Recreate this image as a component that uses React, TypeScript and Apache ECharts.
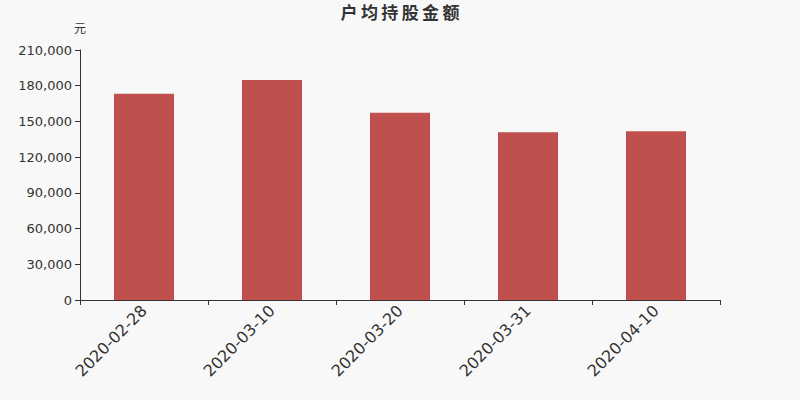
import { useRef, useEffect } from 'react'
import * as echarts from 'echarts'

const dates = ['2020-02-28', '2020-03-10', '2020-03-20', '2020-03-31', '2020-04-10']
const amounts = [173300, 184800, 157300, 140900, 141700]
const yMax = 210000
const yStep = 30000

export default function App() {
  const chartRef = useRef<HTMLDivElement>(null)

  useEffect(() => {
    if (!chartRef.current) return
    document.body.style.margin = '0'
    const chart = echarts.init(chartRef.current, null, { renderer: 'svg' })

    chart.setOption({
      animation: false,
      backgroundColor: '#f8f8f8',
      title: {
        text: '户\u2009均\u2009持\u2009股\u2009金\u2009额',
        left: 'center',
        top: -2,
        textStyle: { fontSize: 17, fontWeight: 'bold', color: '#333', fontFamily: 'Noto Sans CJK SC' }
      },
      grid: { left: 80, right: 80, top: 50, bottom: 100 },
      xAxis: {
        type: 'category',
        data: dates,
        axisLine: { lineStyle: { color: '#333' } },
        axisTick: { show: true, lineStyle: { color: '#333' } },
        axisLabel: { rotate: 45, fontSize: 16, color: '#333', margin: 8, fontFamily: 'DejaVu Sans' }
      },
      yAxis: {
        type: 'value',
        name: '元',
        nameGap: 17,
        nameTextStyle: { color: '#333', fontSize: 12, align: 'center', fontFamily: 'Noto Sans CJK SC' },
        min: 0,
        max: yMax,
        interval: yStep,
        axisLine: { show: true, lineStyle: { color: '#333' } },
        axisTick: { show: true },
        splitLine: { show: false },
        axisLabel: {
          color: '#333',
          fontSize: 13,
          fontFamily: 'DejaVu Sans',
          formatter: (v: number) => v.toLocaleString('en-US')
        }
      },
      series: [
        {
          type: 'bar',
          data: amounts,
          barWidth: 60,
          itemStyle: { color: '#c0504d' }
        }
      ]
    })

    return () => chart.dispose()
  }, [])

  return <div ref={chartRef} style={{ width: 800, height: 400 }} />
}
